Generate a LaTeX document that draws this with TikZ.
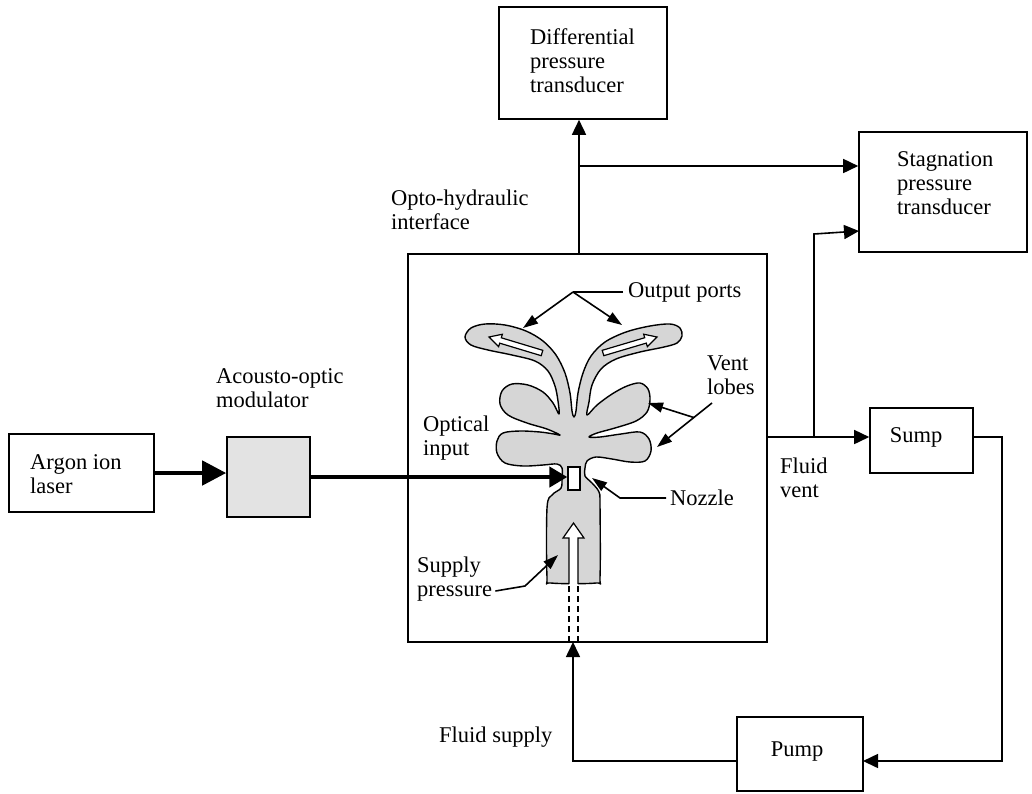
\documentclass[tikz,border=0pt]{standalone}
\usepackage{fontspec}
\setmainfont{Liberation Serif}
\usetikzlibrary{arrows.meta,calc}
\definecolor{devgray}{gray}{0.84}
\definecolor{aomgray}{gray}{0.89}
% hollow arrow: tail, tip, head length, half shaft width, half head width
\newcommand\hollowarrow[5]{%
  \path (#1) coordinate (ha-t) (#2) coordinate (ha-p);
  \coordinate (ha-n) at ($(ha-p)!#3!(ha-t)$);
  \filldraw[fill=white, line width=1.2pt, line join=miter]
    ($(ha-t)!#4!90:(ha-p)$) -- ($(ha-n)!#4!-90:(ha-t)$) -- ($(ha-n)!#5!-90:(ha-t)$)
    -- (ha-p) -- ($(ha-n)!#5!90:(ha-t)$) -- ($(ha-n)!#4!90:(ha-t)$)
    -- ($(ha-t)!#4!-90:(ha-p)$) -- cycle;
}
\tikzset{
  box/.style={draw, line width=1.6pt, rectangle, inner sep=0pt},
  txt/.style={font=\fontsize{22.5}{24}\selectfont},
  lbl/.style={txt, align=left, inner sep=0pt, anchor=west},
  wire/.style={line width=1.6pt},
  tipbig/.style={-{Triangle[length=15pt,width=14pt]}},
  tipsmall/.style={-{Triangle[length=15pt,width=10pt]}},
  beam/.style={line width=4.5pt, -{Triangle[length=24pt,width=24pt]}},
  beamin/.style={line width=4.2pt, -{Triangle[length=18pt,width=20pt]}},
}
\begin{document}
\begin{tikzpicture}[x=1pt,y=-1pt]
\useasboundingbox[fill=white] (0,0) rectangle (1032,793);

% blocks
\node[box, minimum width=145pt, minimum height=78pt] (laser) at (81.5,473) {};
\node[box, fill=aomgray, minimum width=83pt, minimum height=80pt] (aom) at (268.5,477) {};
\node[box, minimum width=359pt, minimum height=388pt] (ohi) at (587.5,448) {};
\node[box, minimum width=168pt, minimum height=112pt] (dpt) at (583,63) {};
\node[box, minimum width=168pt, minimum height=120pt] (spt) at (943,192) {};
\node[box, minimum width=103pt, minimum height=65pt] (sump) at (921.5,440.5) {};
\node[box, minimum width=126pt, minimum height=74pt] (pump) at (800,754) {};

% block labels
\node[txt, inner sep=0pt] (sumpT) at (916,437) {Sump};
\node[txt, inner sep=0pt] (pumpT) at (797,752) {Pump};
\node[lbl] (laserT) at (30,474) {Argon ion\\laser};
\node[lbl] (aomT) at (216,388) {Acousto-optic\\modulator};
\node[lbl] (dptT) at (530,61) {Differential\\pressure\\transducer};
\node[lbl] (sptT) at (897,183) {Stagnation\\pressure\\transducer};
\node[lbl] (ohiT) at (391,210) {Opto-hydraulic\\interface};
\node[lbl] (ventT) at (780,478) {Fluid\\vent};
\node[lbl] (supT) at (439,737) {Fluid supply};

% fluidic element
\draw[line width=1.4pt, fill=devgray, line join=round]
  plot[smooth cycle, tension=0.55] coordinates {
  (465,337) (471,328) (485,324) (505,325) (526,331) (543,341) (556,355)
  (565,373) (570,393) (572,411) (574,417) (576,411) (578,393) (583,373)
  (591,356) (605,342) (626,332) (650,326) (670,324) (680,328) (682,336)
  (677,343) (664,347) (640,352) (616,359) (601,369) (592,385) (589,402)
  (587,415) (597,405) (612,394) (627,386) (640,383) (648,389) (650,400)
  (647,412) (636,421) (615,428) (597,433) (589,437) (600,437) (621,434)
  (640,432) (649,439) (651,451) (645,461) (630,462) (612,459) (596,457)
  (587,461) (585,468) (585,476) (592,483) (599,492) (600,505) (600,577)
  (596,583) (551,583) (547,577) (547,508) (552,495) (561,488) (562,478)
  (562,468) (557,464) (543,465) (523,466) (505,463) (497,453) (497,441)
  (503,433) (520,431) (540,432) (554,434) (560,435) (547,429) (527,423)
  (508,415) (500,404) (502,391) (512,384) (528,385) (543,392) (553,403)
  (559,414) (558,401) (555,386) (548,371) (535,361) (512,355) (488,350)
  (471,345)};
\node[draw, line width=1.3pt, fill=white, minimum width=12pt, minimum height=23pt, inner sep=0pt] (nozzle) at (574,478.5) {};

% flow arrows in the output ports
\hollowarrow{542,353}{489,337}{12pt}{2.8pt}{6.5pt}
\hollowarrow{603,353}{657,337}{12pt}{2.8pt}{6.5pt}

% supply flow arrow
\fill[white] (569,538) rectangle (578,584.5);
\draw[line width=1.2pt, line join=miter, fill=white]
  (569,584) -- (569,538) -- (563,538) -- (573.5,523) -- (584,538) -- (578,538) -- (578,584);
\draw[line width=1.3pt, dash pattern=on 6pt off 4pt] (569,586) -- (569,642);
\draw[line width=1.3pt, dash pattern=on 6pt off 4pt] (578,586) -- (578,642);

% internal labels and leaders
\node[lbl] (opT) at (628,292) {Output ports};
\node[lbl] (vlT) at (707,375) {Vent\\lobes};
\node[lbl] (oiT) at (423,438) {Optical\\input};
\node[lbl] (nzT) at (670,498) {Nozzle};
\node[lbl] (spT) at (417,579) {Supply\\pressure};

\coordinate (opJ) at (573,292);
\draw[wire] ($(opT.west)+(-5,0)$) -- (opJ);
\draw[wire, tipsmall] (opJ) -- (523,328);
\draw[wire, tipsmall] (opJ) -- (622,325);

\coordinate (vlA) at (712,403);
\coordinate (vlB) at (657,447);
\coordinate (vlJ) at ($(vlA)!0.33!(vlB)$);
\draw[wire, tipsmall] (vlA) -- (vlB);
\draw[wire, tipsmall] (vlJ) -- (648,403);

\draw[wire, tipsmall] ($(nzT.west)+(-4,0)$) -- (620,498) -- (592,478);
\draw[wire, tipsmall] ($(spT.east |- 0,591)+(3,0)$) -- (525,586) -- (558,555);

% optical path
\draw[beam] (laser.east) -- (laser.east -| aom.west);
\draw[beamin] (aom.east) -- (aom.east -| nozzle.west);

% pressure lines
\coordinate (up) at (579,254);
\coordinate (br) at (579,166);
\draw[wire, tipbig] (up) -- (up |- dpt.south);
\draw[wire, tipbig] (br) -- (br -| spt.west);

\coordinate (vent) at (767,437);
\coordinate (vb) at (814,437);
\coordinate (vbTop) at (814,234);
\coordinate (spIn) at (859,231);
\draw[wire, tipbig] (vent) -- (vent -| sump.west);
\draw[wire, tipbig] (vb) -- (vbTop) -- (spIn);

% return loop
\coordinate (sOut) at (973,437);
\coordinate (rTop) at (1002,437);
\coordinate (rBot) at (1002,761);
\coordinate (pIn) at (863,761);
\coordinate (pOut) at (737,761);
\coordinate (fCorner) at (573,761);
\coordinate (fIn) at (573,642);
\draw[wire, tipbig] (sOut) -- (rTop) -- (rBot) -- (pIn);
\draw[wire, tipbig] (pOut) -- (fCorner) -- (fIn);
\end{tikzpicture}
\end{document}
